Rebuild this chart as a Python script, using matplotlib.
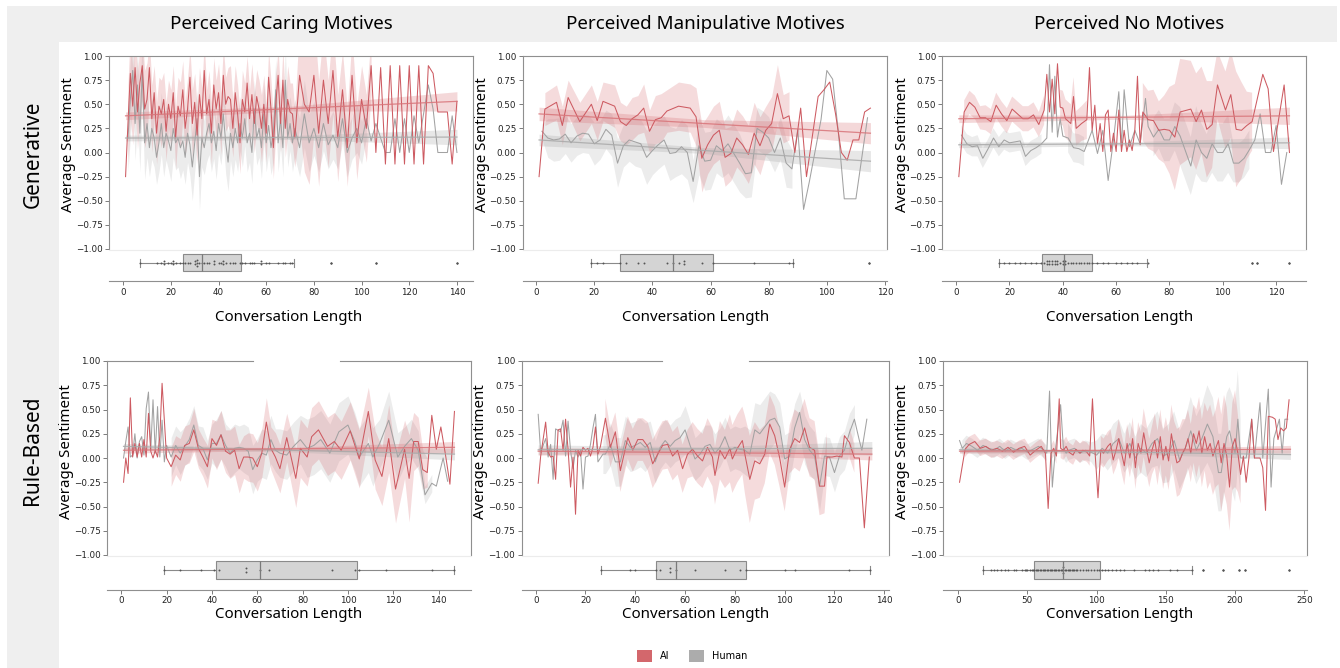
import numpy as np
import matplotlib.pyplot as plt
from matplotlib.patches import Patch, Rectangle

nan = np.nan

col_titles = ["Perceived Caring Motives", "Perceived Manipulative Motives", "Perceived No Motives"]
row_titles = ["Generative", "Rule-Based"]
series_labels = ["AI", "Human"]

# ----------------------------------------------------------------------
# Generative / caring
# ----------------------------------------------------------------------
p1_x = [1, 2, 3, 4, 5, 6, 7, 8, 9, 10, 11, 12, 13, 14, 15, 16, 17, 18, 19, 20,
        21, 22, 23, 24, 25, 26, 27, 28, 29, 30, 31, 32, 33, 34, 35, 36, 37, 38, 39, 40,
        41, 42, 43, 44, 45, 46, 47, 48, 49, 50, 51, 52, 53, 54, 55, 56, 57, 58, 59, 60,
        61, 62, 63, 64, 65, 66, 67, 68, 69, 70, 71, 72,
        74, 76, 78, 80, 82, 84, 86, 88, 90, 92, 94, 96, 98, 100, 102, 104, 106, 108, 110, 112,
        114, 116, 118, 120, 122, 124, 126, 128, 130, 132, 134, 136, 138, 140]
p1_ai = [-0.25, 0.30, 0.82, 0.48, 0.88, 0.42, 0.72, 0.90, 0.45, 0.55,
         0.88, 0.35, 0.62, 0.20, 0.48, 0.40, 0.55, 0.22, 0.50, 0.35,
         0.62, 0.15, 0.48, 0.38, 0.65, 0.25, 0.45, 0.78, 0.30, 0.52,
         0.18, 0.60, 0.35, 0.85, 0.40, 0.55, 0.20, 0.70, 0.45, 0.62,
         0.30, 0.80, 0.50, 0.58, 0.55, 0.25, 0.62, 0.40, 0.10, 0.55,
         0.42, 0.72, 0.35, 0.60, 0.30, 0.58, 0.45, 0.25, 0.50, 0.20,
         0.78, 0.45, 0.05, 0.50, 0.80, 0.30, 0.75, 0.25, 0.55, 0.42, 0.40, 0.15,
         0.80, 0.50, 0.42, 0.80, 0.20, 0.75, 0.30, 0.85, 0.15, 0.65,
         0.05, 0.80, 0.10, 0.55, 0.25, 0.90, 0.00, 0.88, -0.12, 0.90,
         -0.12, 0.90, -0.12, 0.90, -0.12, 0.90, -0.12, 0.90, 0.82, 0.42,
         0.42, 0.42, -0.12, 0.53]
p1_ai_ci = [nan, 0.40, 0.45, 0.40, 0.42, 0.38, 0.40, 0.35, 0.40, 0.38,
            0.30, 0.35, 0.28, 0.32, 0.30, 0.35, 0.28, 0.30, 0.25, 0.30,
            0.28, 0.32, 0.30, 0.35, 0.30, 0.28, 0.32, 0.30, 0.35, 0.30,
            0.30, 0.28, 0.32, 0.30, 0.25, 0.30, 0.32, 0.28, 0.30, 0.30,
            0.32, 0.30, 0.28, 0.30, 0.35, 0.30, 0.28, 0.30, 0.32, 0.30,
            0.30, 0.28, 0.30, 0.32, 0.30, 0.28, 0.30, 0.35, 0.30, 0.30,
            0.28, 0.30, 0.32, 0.30, 0.28, 0.30, 0.32, 0.30, 0.35, 0.30, 0.32, 0.30,
            0.55, 0.70, 0.75, 0.60, 0.55, 0.50, 0.45, 0.45, 0.45, 0.40,
            0.40, 0.40, 0.38, 0.35, 0.35, 0.30, nan, nan, nan, nan,
            nan, nan, nan, nan, nan, nan, nan, nan, nan, nan,
            nan, nan, nan, nan]
p1_hu = [nan, 0.15, 0.55, 0.85, 0.30, 0.70, 0.20, 0.85, 0.10, 0.30,
         0.05, 0.25, 0.15, -0.05, 0.10, 0.30, 0.05, 0.20, 0.12, 0.02,
         0.25, 0.10, 0.15, 0.05, 0.12, -0.05, 0.20, 0.08, -0.15, 0.10,
         0.35, -0.25, 0.15, 0.05, 0.20, 0.30, 0.10, 0.22, 0.02, 0.30,
         0.15, 0.40, 0.10, -0.10, 0.20, 0.05, 0.25, 0.10, 0.30, 0.15,
         0.35, 0.10, 0.20, 0.00, 0.45, 0.15, 0.25, 0.05, 0.40, 0.10,
         0.28, 0.05, 0.20, 0.65, 0.10, 0.35, 0.05, 0.75, 0.15, 0.30, 0.10, 0.25,
         0.05, 0.40, 0.10, 0.25, 0.05, 0.30, 0.08, 0.18, 0.05, 0.35,
         0.00, 0.15, 0.25, 0.10, 0.35, 0.12, 0.30, 0.15, 0.00, 0.00,
         0.35, 0.00, 0.35, 0.00, 0.38, 0.10, 0.40, 0.70, 0.45, 0.00,
         0.00, 0.00, 0.38, 0.00]
p1_hu_ci = [nan, 0.35, 0.40, 0.35, 0.38, 0.35, 0.40, 0.35, 0.38, 0.35,
            0.30, 0.32, 0.30, 0.28, 0.30, 0.32, 0.30, 0.28, 0.30, 0.32,
            0.30, 0.28, 0.30, 0.32, 0.30, 0.28, 0.30, 0.32, 0.35, 0.30,
            0.30, 0.35, 0.30, 0.28, 0.30, 0.32, 0.30, 0.28, 0.30, 0.30,
            0.28, 0.30, 0.32, 0.30, 0.28, 0.30, 0.32, 0.30, 0.28, 0.30,
            0.28, 0.30, 0.30, 0.32, 0.30, 0.28, 0.30, 0.32, 0.30, 0.30,
            0.30, 0.28, 0.30, 0.32, 0.30, 0.28, 0.30, 0.32, 0.30, 0.28, 0.30, 0.30,
            0.30, 0.35, 0.30, 0.28, 0.25, 0.28, 0.25, 0.25, 0.22, 0.25,
            0.25, 0.22, 0.25, 0.22, 0.20, nan, nan, nan, nan, nan,
            nan, nan, nan, nan, nan, nan, nan, nan, nan, nan,
            nan, nan, nan, nan]
p1_reg_x = [1, 70.5, 140]
p1_reg_ai = [0.38, 0.455, 0.53]
p1_reg_ai_ci = [0.04, 0.025, 0.10]
p1_reg_hu = [0.15, 0.155, 0.16]
p1_reg_hu_ci = [0.03, 0.02, 0.08]
p1_box = [7, 25, 33, 49.5, 71.5]
p1_fliers = [87, 106, 140]
p1_lengths = [7, 14, 16, 17, 17, 19, 20, 21, 21, 22, 24, 25, 26, 27, 28, 30, 30, 31, 31, 31,
              32, 33, 34, 35, 36, 38, 38, 40, 41, 42, 42, 43, 45, 46, 47, 49, 50, 51, 53, 54,
              55, 58, 58, 60, 61, 65, 67, 68, 70, 71, 87, 106, 140]

# ----------------------------------------------------------------------
# Generative / manipulative
# ----------------------------------------------------------------------
p2_ai_x = [1, 3, 7, 9, 11, 15, 19, 21, 23, 27, 29, 31, 33, 35, 37, 39, 41, 43, 45, 49,
           53, 55, 57, 59, 61, 63, 65, 67, 69, 71, 73, 75, 77, 79, 81, 83, 85, 87, 89, 91,
           93, 97, 99, 101, 103, 105, 107, 109, 111, 113, 115]
p2_ai = [-0.25, 0.45, 0.52, 0.28, 0.57, 0.32, 0.50, 0.33, 0.53, 0.48,
         0.32, 0.28, 0.35, 0.39, 0.46, 0.22, 0.34, 0.36, 0.43, 0.48,
         0.46, 0.37, -0.06, 0.08, 0.18, 0.23, -0.05, -0.01, 0.15, 0.08,
         -0.02, 0.20, 0.07, 0.23, 0.30, 0.61, 0.35, 0.38, 0.00, 0.46,
         -0.25, 0.58, 0.65, 0.73, 0.40, 0.00, -0.08, 0.13, 0.13, 0.42, 0.46]
p2_ai_ci = [nan, 0.17, 0.18, 0.20, 0.18, 0.20, 0.20, 0.20, 0.20, 0.22,
            0.20, 0.20, 0.22, 0.20, 0.25, 0.22, 0.25, 0.25, 0.22, 0.25,
            0.25, 0.30, 0.35, 0.30, 0.30, 0.30, 0.30, 0.28, 0.30, 0.30,
            0.30, 0.32, 0.30, 0.25, 0.28, 0.30, 0.25, 0.25, nan, nan,
            nan, nan, nan, nan, nan, nan, nan, nan, nan, nan, nan]
p2_hu_x = [2, 4, 6, 8, 10, 12, 14, 16, 18, 20, 22, 24, 26, 28, 30, 32, 34, 36, 38, 40,
           42, 44, 46, 48, 50, 52, 54, 56, 58, 60, 62, 64, 66, 68, 70, 72, 74, 76, 78, 80,
           82, 84, 86, 88, 90, 92, 94, 98, 100, 102, 104, 106, 110, 114]
p2_hu = [0.22, 0.15, 0.13, 0.14, 0.19, 0.10, 0.17, 0.20, 0.19, 0.09,
         0.13, 0.24, 0.18, -0.11, 0.07, 0.13, 0.11, 0.09, -0.05, 0.02,
         0.08, 0.13, -0.01, 0.00, 0.06, 0.00, -0.30, 0.07, -0.09, -0.08,
         0.07, 0.02, 0.09, -0.01, -0.11, -0.22, -0.21, 0.25, 0.21, 0.15,
         0.00, 0.15, -0.11, -0.17, 0.24, -0.59, -0.30, 0.34, 0.85, 0.76,
         0.20, -0.48, -0.48, 0.36]
p2_hu_ci = [0.08, 0.20, 0.22, 0.22, 0.20, 0.20, 0.20, 0.20, 0.20, 0.22,
            0.20, 0.20, 0.22, 0.25, 0.22, 0.22, 0.25, 0.25, 0.28, 0.25,
            0.25, 0.25, 0.28, 0.25, 0.28, 0.28, 0.22, 0.30, 0.30, 0.30,
            0.28, 0.28, 0.30, 0.30, 0.30, 0.25, 0.25, 0.22, 0.22, 0.22,
            0.20, 0.22, 0.25, 0.20, nan, nan, nan, nan, nan, nan,
            nan, nan, nan, nan]
p2_reg_x = [1, 58, 115]
p2_reg_ai = [0.40, 0.30, 0.20]
p2_reg_ai_ci = [0.07, 0.04, 0.11]
p2_reg_hu = [0.13, 0.02, -0.09]
p2_reg_hu_ci = [0.06, 0.03, 0.11]
p2_box = [19, 29, 47, 61, 88.5]
p2_fliers = [114.5]
p2_lengths = [19, 21, 23, 29, 31, 35, 37, 45, 47, 49, 51, 51, 57, 61, 75, 87, 88.5, 114.5]

# ----------------------------------------------------------------------
# Generative / no motives
# ----------------------------------------------------------------------
p3_ai_x = [1, 3, 5, 7, 9, 11, 13, 15, 17, 19, 21, 23, 25, 27, 29, 31, 33, 34, 35, 36,
           37, 38, 39, 40, 41, 43, 44, 45, 47, 49, 50, 51, 52, 53, 54, 55, 56, 57, 58, 59,
           60, 61, 62, 63, 64, 65, 66, 67, 68, 69, 70, 72, 74, 76, 78, 80, 82, 84, 88, 90,
           92, 94, 96, 98, 101, 103, 105, 107, 109, 111, 115, 117, 119, 123, 125]
p3_ai = [-0.25, 0.42, 0.52, 0.47, 0.36, 0.36, 0.32, 0.49, 0.40, 0.33,
         0.45, 0.40, 0.35, 0.35, 0.39, 0.29, 0.44, 0.81, 0.42, 0.76,
         0.40, 0.92, 0.47, 0.46, 0.35, 0.30, 0.58, 0.25, 0.30, 0.34,
         0.88, 0.23, 0.49, 0.09, 0.30, 0.01, 0.39, 0.44, 0.01, 0.20,
         0.01, 0.44, 0.01, 0.23, 0.01, 0.13, 0.02, 0.23, 0.79, 0.08,
         0.42, 0.34, 0.33, 0.23, 0.24, 0.23, 0.16, 0.42, 0.45, 0.32,
         0.44, 0.24, 0.29, 0.70, 0.44, 0.60, 0.24, 0.23, 0.28, 0.32,
         0.81, 0.66, 0.01, 0.70, 0.00]
p3_ai_ci = [nan, 0.12, 0.12, 0.12, 0.12, 0.13, 0.13, 0.13, 0.13, 0.13,
            0.13, 0.13, 0.13, 0.13, 0.13, 0.13, 0.15, nan, nan, nan,
            nan, nan, 0.18, 0.18, 0.20, 0.20, 0.20, 0.18, 0.18, 0.20,
            nan, nan, nan, nan, nan, nan, nan, nan, nan, nan,
            nan, nan, nan, nan, nan, nan, nan, nan, nan, nan,
            0.30, 0.30, 0.32, 0.30, 0.35, 0.45, 0.55, 0.55, 0.50, 0.50,
            0.45, 0.50, 0.45, 0.35, 0.40, 0.45, 0.60, 0.50, 0.35, 0.30,
            nan, nan, nan, nan, nan]
p3_hu_x = [2, 4, 6, 8, 10, 12, 14, 16, 18, 20, 22, 24, 26, 28, 30, 32,
           34, 35, 36, 37, 38, 39, 40, 42, 44, 46, 48,
           51, 53, 55, 57, 59, 61, 62, 63, 65, 67, 69, 71, 72,
           74, 76, 78, 80, 82, 84,
           88, 90, 92, 94, 96, 98, 100, 102, 104, 106, 108, 110, 112, 114, 116, 118, 120, 122, 124]
p3_hu = [0.18, 0.09, 0.06, 0.07, -0.06, 0.04, 0.15, 0.06, 0.13, 0.10, 0.11, 0.12, -0.04, 0.02, 0.05, 0.09,
         0.15, 0.91, 0.21, 0.79, 0.16, 0.35, 0.17, 0.15, 0.05, 0.04, 0.01,
         0.23, -0.01, 0.23, -0.29, 0.13, 0.63, 0.06, 0.65, 0.06, 0.23, 0.09, 0.56, 0.27,
         0.16, 0.24, 0.13, 0.13, 0.27, 0.17,
         -0.14, 0.13, 0.00, -0.06, 0.09, 0.00, 0.00, 0.09, -0.11, -0.11, -0.06, 0.03, 0.13, 0.40,
         0.00, 0.00, 0.28, -0.33, 0.00]
p3_hu_ci = [0.10, 0.10, 0.10, 0.11, 0.10, 0.10, 0.10, 0.10, 0.10, 0.10, 0.10, 0.10, 0.10, 0.10, 0.10, 0.10,
            nan, nan, nan, nan, nan, nan, nan, 0.15, 0.15, 0.15, 0.15,
            nan, nan, nan, nan, nan, nan, nan, nan, nan, nan, nan, nan, nan,
            0.20, 0.20, 0.22, 0.22, 0.25, 0.30,
            0.30, 0.35, 0.30, 0.25, 0.30, 0.30, 0.30, 0.30, 0.20, 0.20, 0.20, 0.20, nan, nan,
            nan, nan, nan, nan, nan]
p3_reg_x = [1, 63, 125]
p3_reg_ai = [0.35, 0.365, 0.38]
p3_reg_ai_ci = [0.04, 0.02, 0.09]
p3_reg_hu = [0.08, 0.09, 0.10]
p3_reg_hu_ci = [0.03, 0.02, 0.06]
p3_box = [16, 32.3, 40.5, 50.8, 71.6]
p3_fliers = [111, 113, 125]
p3_lengths = [16, 18, 20, 22, 24, 26, 28, 30, 32, 33, 34, 34, 35, 35, 36, 36, 37, 37, 38, 38,
              39, 40, 40, 41, 41, 42, 43, 44, 45, 46, 47, 48, 49, 50, 51, 53, 55, 57, 60, 62,
              64, 66, 68, 72, 111, 113, 125]

# ----------------------------------------------------------------------
# Rule-based / caring
# ----------------------------------------------------------------------
p4_ai_x = [1, 2, 3, 4, 5, 6, 7, 8, 9, 10, 11, 12, 13, 14, 15, 16, 17, 18, 19, 20,
           22, 24, 26, 28, 30, 32, 34, 36, 38, 40, 42, 44, 46, 48, 50, 52, 54, 56, 58, 60,
           62, 64, 66, 68, 70,
           73, 77, 79, 82, 84, 87, 91, 94, 97, 101, 105, 109, 112, 115, 118, 121, 125, 127, 129, 131,
           133, 135, 137, 139, 141, 143, 145, 147]
p4_ai = [-0.25, 0.00, -0.16, 0.62, 0.01, 0.15, 0.01, 0.15, 0.01, 0.19,
         0.01, 0.46, 0.07, 0.00, 0.08, 0.01, 0.22, 0.77, 0.39, 0.00,
         -0.09, 0.03, -0.02, 0.13, 0.15, 0.29, 0.10, 0.01, -0.09, 0.20,
         0.13, 0.24, 0.07, 0.04, 0.08, -0.11, 0.01, 0.01, 0.00, -0.09,
         0.05, 0.37, 0.10, 0.01, -0.11,
         0.21, -0.21, 0.10, 0.01, 0.22, 0.29, 0.12, 0.17, 0.08, 0.28,
         -0.01, 0.48, -0.02, -0.19, 0.20, -0.32, 0.09, -0.21, 0.17, 0.17,
         -0.12, -0.15, 0.44, 0.09, 0.32, 0.04, -0.27, 0.48]
p4_ai_ci = [nan, nan, nan, nan, nan, nan, nan, nan, nan, nan,
            nan, nan, nan, nan, nan, nan, nan, nan, nan, nan,
            0.20, 0.20, 0.22, 0.20, 0.20, 0.22, 0.20, 0.20, 0.22, 0.20,
            0.25, 0.25, 0.22, 0.25, 0.25, 0.25, 0.22, 0.25, 0.25, 0.25,
            0.25, 0.25, 0.22, 0.25, 0.25,
            0.25, 0.30, 0.30, 0.30, 0.30, 0.30, 0.30, 0.30, 0.30, 0.30,
            0.30, 0.25, 0.30, 0.30, 0.35, 0.35, 0.30, 0.45, 0.30, 0.25,
            0.20, 0.15, nan, nan, nan, nan, nan, nan]
p4_hu_x = [1, 2, 3, 4, 5, 6, 7, 8, 9, 10, 11, 12, 13, 14, 15, 16, 17, 18, 19, 20,
           22, 24, 26, 28, 30, 32, 34, 36, 38, 40, 42, 44, 46, 48, 50, 52, 54, 56, 58, 60,
           62, 64, 66, 68, 70,
           73, 76, 79, 82, 85, 88, 92, 96, 100, 103, 105, 109, 111, 114, 118, 122, 125, 128, 131,
           134, 137, 139, 142, 144]
p4_hu = [0.00, 0.17, 0.32, 0.01, 0.03, 0.25, 0.00, 0.17, 0.22, 0.03,
         0.51, 0.68, 0.08, 0.60, 0.05, 0.53, 0.01, 0.39, -0.04, 0.13,
         0.01, 0.13, 0.05, 0.12, 0.19, 0.34, 0.13, 0.10, -0.02, 0.15,
         0.15, 0.24, 0.13, 0.05, 0.10, 0.11, 0.10, 0.07, -0.12, -0.02,
         0.05, 0.03, 0.19, 0.08, 0.05,
         0.03, 0.12, 0.19, 0.10, 0.13, 0.19, 0.05, 0.27, 0.34, 0.17,
         0.01, 0.15, 0.01, 0.15, 0.39, 0.01, 0.12, 0.20, 0.08,
         -0.38, -0.26, -0.29, 0.00, -0.24]
p4_hu_ci = [nan, nan, nan, nan, nan, nan, nan, nan, nan, nan,
            nan, nan, nan, nan, nan, nan, nan, nan, nan, nan,
            0.20, 0.20, 0.22, 0.20, 0.22, 0.20, 0.20, 0.22, 0.20, 0.20,
            0.25, 0.25, 0.22, 0.25, 0.25, 0.22, 0.25, 0.25, 0.25, 0.22,
            0.25, 0.25, 0.25, 0.22, 0.25,
            0.25, 0.25, 0.25, 0.30, 0.30, 0.30, 0.30, 0.30, 0.30, 0.30,
            0.30, 0.30, 0.30, 0.25, 0.30, 0.25, 0.20, 0.20, 0.20,
            0.09, 0.09, nan, nan, nan]
p4_reg_x = [1, 74, 147]
p4_reg_ai = [0.08, 0.095, 0.11]
p4_reg_ai_ci = [0.03, 0.015, 0.06]
p4_reg_hu = [0.12, 0.08, 0.04]
p4_reg_hu_ci = [0.03, 0.015, 0.06]
p4_box = [19, 42, 61, 104, 147]
p4_fliers = []
p4_lengths = [19, 26, 35, 41, 43, 55, 55, 61, 65, 93, 103, 105, 117, 137, 147]

# ----------------------------------------------------------------------
# Rule-based / manipulative
# ----------------------------------------------------------------------
p5_ai_x = [1, 2, 4, 5, 6, 7, 8, 9, 10, 11, 12, 13, 14, 15, 16, 17, 18, 19, 20, 21,
           22, 23, 24, 25, 26, 28, 30, 32, 34, 37, 39, 41, 43, 45, 47, 49, 51, 53, 55, 57,
           59, 61, 63, 65, 67, 69, 71, 72, 74, 76, 78, 79, 81, 83, 84, 86, 88, 90, 92, 94,
           96, 98, 100, 102, 104, 106, 108, 110, 112, 114, 116, 117, 119, 121, 123, 124, 126, 128, 130, 132,
           134]
p5_ai = [-0.26, 0.02, 0.37, 0.06, 0.01, 0.02, -0.22, 0.29, 0.30, 0.08,
         0.40, 0.09, -0.30, 0.01, -0.58, 0.08, 0.02, 0.11, 0.08, 0.10,
         0.02, 0.11, 0.32, 0.04, 0.12, 0.41, 0.11, 0.27, -0.13, 0.21,
         0.08, 0.19, 0.19, 0.12, -0.06, 0.04, 0.13, 0.14, 0.02, 0.08,
         -0.11, 0.04, 0.09, 0.02, -0.03, 0.11, 0.01, -0.18, 0.08, -0.01,
         0.10, -0.01, 0.10, 0.18, 0.04, -0.22, -0.03, -0.06, 0.04, 0.35,
         0.23, 0.00, -0.30, 0.09, 0.20, 0.16, 0.31, 0.11, 0.08, -0.29,
         -0.29, 0.01, 0.01, 0.02, 0.01, 0.23, 0.16, 0.00, 0.00, -0.72,
         0.01]
p5_ai_ci = [nan, nan, nan, nan, nan, nan, nan, nan, nan, nan,
            nan, nan, nan, nan, nan, nan, nan, nan, nan, nan,
            nan, nan, nan, nan, nan, 0.20, 0.20, 0.20, 0.22, 0.22,
            0.22, 0.22, 0.22, 0.25, 0.25, 0.25, 0.25, 0.25, 0.25, 0.25,
            0.25, 0.25, 0.28, 0.28, 0.28, 0.30, 0.30, 0.30, 0.30, 0.30,
            0.35, 0.35, 0.35, 0.35, 0.40, 0.45, 0.40, 0.35, 0.30, 0.30,
            0.30, 0.30, 0.25, 0.25, 0.30, 0.30, 0.30, 0.30, 0.30, 0.30,
            0.28, 0.25, nan, nan, nan, nan, 0.15, 0.15, nan, nan,
            nan]
p5_hu_x = [1, 2, 4, 5, 6, 7, 8, 10, 11, 12, 13, 14, 15, 16, 17, 18, 19, 20, 21, 22,
           23, 24, 25, 27, 28, 30, 32, 34, 36, 38, 40, 42, 44, 46, 48, 50, 52, 54, 56, 58,
           60, 62, 64, 66, 68, 70, 72, 74, 76, 78, 80, 82, 84, 86, 88, 90, 92, 94, 96, 98,
           100, 102, 104, 106, 108, 110, 112, 114, 116, 118, 120, 122, 124, 126, 128, 130, 131, 133]
p5_hu = [0.45, 0.06, 0.20, 0.01, 0.14, -0.22, 0.30, 0.27, 0.39, 0.02,
         0.38, 0.08, -0.11, 0.08, 0.01, 0.08, -0.32, 0.01, 0.02, 0.14,
         0.31, 0.45, -0.04, 0.04, 0.04, 0.14, -0.04, -0.04, 0.18, 0.11,
         0.13, 0.16, 0.11, 0.16, -0.04, 0.11, 0.18, 0.12, 0.18, 0.21,
         0.29, 0.13, -0.01, 0.04, 0.12, 0.14, 0.05, 0.11, 0.22, 0.08,
         0.11, 0.09, 0.08, 0.04, 0.29, 0.25, 0.32, 0.39, 0.41, 0.32,
         -0.01, 0.02, 0.31, 0.47, 0.19, 0.08, 0.02, -0.29, 0.02, 0.01,
         -0.15, 0.02, 0.08, 0.26, 0.40, 0.18, 0.08, 0.40]
p5_hu_ci = [nan, nan, nan, nan, nan, nan, nan, nan, nan, nan,
            nan, nan, nan, nan, nan, nan, nan, nan, nan, nan,
            nan, nan, nan, 0.20, 0.20, 0.22, 0.25, 0.25, 0.25, 0.25,
            0.25, 0.25, 0.25, 0.22, 0.22, 0.22, 0.22, 0.22, 0.22, 0.22,
            0.25, 0.25, 0.22, 0.22, 0.22, 0.20, 0.20, 0.20, 0.20, 0.22,
            0.22, 0.22, 0.25, 0.25, 0.28, 0.30, 0.30, 0.30, 0.25, 0.25,
            0.25, 0.25, 0.25, 0.22, 0.25, 0.25, 0.25, 0.25, 0.20, 0.20,
            0.20, 0.20, 0.20, 0.20, 0.15, nan, nan, nan]
p5_reg_x = [1, 68, 135]
p5_reg_ai = [0.07, 0.055, 0.04]
p5_reg_ai_ci = [0.04, 0.02, 0.06]
p5_reg_hu = [0.085, 0.095, 0.10]
p5_reg_hu_ci = [0.05, 0.02, 0.07]
p5_box = [26.3, 48.3, 56.3, 84.3, 134.3]
p5_fliers = []
p5_lengths = [26.3, 38, 40, 48.3, 50, 54, 54, 56.3, 64, 76, 82, 84.3, 100, 104, 126, 134.3]

# ----------------------------------------------------------------------
# Rule-based / no motives
# ----------------------------------------------------------------------
p6_ai_x = [1, 5, 8, 12, 16, 20, 24, 28, 32, 36, 40, 44, 48, 52, 56, 60, 63, 65, 67, 69,
           71, 73, 74, 76, 78, 80, 83, 85, 88, 90, 93, 95, 97, 99, 101, 103, 105, 108, 110, 112,
           114, 116, 118, 120, 122, 124, 126, 128, 130, 132, 134, 136, 138, 140, 142, 144, 146, 148, 150, 152,
           154, 156, 158, 160, 162, 164, 166, 168, 170, 172, 174, 176, 178, 180, 182, 184, 186, 188, 190, 192,
           194, 196, 198, 200, 202, 204, 206, 208, 210, 212, 214, 216, 218, 220, 222, 224, 227, 229, 231, 233,
           235, 237, 239]
p6_ai = [-0.25, 0.09, 0.14, 0.17, 0.10, 0.12, 0.08, 0.10, 0.07, 0.11,
         0.06, 0.10, 0.12, 0.03, 0.08, 0.12, 0.05, -0.52, 0.05, 0.10,
         0.02, 0.61, 0.10, 0.08, 0.12, 0.06, 0.03, 0.09, 0.05, 0.08,
         0.06, 0.02, 0.61, 0.03, -0.41, 0.08, 0.05, 0.12, 0.15, -0.02,
         0.08, 0.20, 0.05, -0.08, 0.15, 0.00, 0.20, -0.10, 0.15, 0.05,
         0.26, 0.10, -0.05, 0.08, 0.18, 0.00, 0.22, -0.02, 0.12, -0.03,
         0.25, 0.08, -0.05, -0.03, 0.05, 0.10, 0.20, 0.05, 0.25, 0.15,
         0.28, 0.05, 0.22, 0.08, 0.15, 0.02, 0.10, 0.18, -0.05, 0.15,
         0.02, -0.30, 0.12, 0.20, 0.05, -0.17, 0.02, -0.25, 0.00, 0.40,
         0.00, 0.00, 0.00, -0.10, -0.54, 0.43, 0.42, 0.40, 0.19, 0.31,
         0.28, 0.31, 0.60]
p6_ai_ci = [nan, 0.08, 0.08, 0.08, 0.08, 0.08, 0.08, 0.08, 0.08, 0.08,
            0.08, 0.08, 0.08, 0.08, 0.08, 0.08, 0.08, nan, 0.08, 0.08,
            0.08, nan, 0.10, 0.10, 0.10, 0.10, 0.10, 0.10, 0.10, 0.10,
            0.10, 0.10, nan, 0.10, nan, 0.15, 0.15, 0.15, 0.15, 0.15,
            0.18, 0.20, 0.20, 0.20, 0.20, 0.20, 0.22, 0.22, 0.22, 0.22,
            0.25, 0.25, 0.25, 0.25, 0.28, 0.28, 0.28, 0.30, 0.30, 0.30,
            0.30, 0.30, 0.35, 0.35, 0.35, 0.30, 0.30, 0.30, 0.30, 0.35,
            0.35, 0.35, 0.35, 0.40, 0.40, 0.40, 0.40, 0.45, 0.50, 0.50,
            0.50, 0.45, 0.45, 0.50, 0.40, 0.30, nan, nan, nan, nan,
            nan, nan, nan, nan, nan, nan, nan, nan, nan, nan,
            nan, nan, nan]
p6_hu_x = [1, 3, 6, 10, 14, 18, 22, 26, 30, 34, 38, 42, 46, 50, 54, 58, 62, 64, 66, 68,
           70, 72, 74, 76, 78, 80, 84, 88, 92, 96, 100, 104, 108, 112, 116, 120, 124, 128, 132, 136,
           140, 144, 148, 152, 156, 160, 164, 168, 172, 176, 180, 184, 188, 190, 192, 194, 196, 198, 200, 202,
           204, 208, 212, 214, 218, 220, 224, 226, 228, 232, 234, 236, 238]
p6_hu = [0.18, 0.10, 0.15, 0.12, 0.08, 0.13, 0.10, 0.08, 0.12, 0.07,
         0.11, 0.08, 0.10, 0.06, 0.09, 0.12, 0.08, 0.05, 0.69, -0.30,
         0.05, 0.30, 0.55, 0.10, 0.05, 0.08, 0.10, 0.05, 0.08, 0.06,
         0.03, 0.10, 0.05, 0.15, 0.20, 0.05, 0.15, 0.00, 0.10, 0.05,
         0.15, 0.20, 0.02, 0.05, 0.18, -0.02, 0.10, 0.28, 0.08, 0.20,
         0.35, 0.22, -0.15, -0.15, 0.05, 0.22, 0.28, 0.15, 0.05, 0.40,
         0.00, 0.00, 0.40, 0.00, 0.57, 0.00, 0.71, -0.30, 0.20, 0.40,
         0.05, 0.40, 0.40]
p6_hu_ci = [nan, 0.08, 0.08, 0.08, 0.08, 0.08, 0.08, 0.08, 0.08, 0.08,
            0.08, 0.08, 0.08, 0.08, 0.08, 0.08, 0.08, 0.08, nan, nan,
            0.10, nan, nan, 0.10, 0.10, 0.10, 0.10, 0.10, 0.10, 0.10,
            0.15, 0.15, 0.18, 0.20, 0.20, 0.20, 0.22, 0.22, 0.25, 0.25,
            0.25, 0.28, 0.28, 0.30, 0.30, 0.30, 0.30, 0.35, 0.35, 0.35,
            0.40, 0.40, 0.40, 0.40, 0.45, 0.45, 0.45, 0.50, 0.50, 0.50,
            0.40, nan, nan, nan, nan, nan, nan, nan, nan, nan,
            nan, nan, nan]
p6_reg_x = [1, 120, 240]
p6_reg_ai = [0.07, 0.08, 0.09]
p6_reg_ai_ci = [0.02, 0.01, 0.04]
p6_reg_hu = [0.085, 0.06, 0.035]
p6_reg_hu_ci = [0.03, 0.015, 0.05]
p6_box = [18, 54.5, 76, 102.5, 169]
p6_fliers = [177, 191, 203, 207, 239]
p6_lengths = [18, 24, 26, 28, 31, 34, 36, 40, 42, 46, 48, 49, 50, 52, 53, 54, 55, 56, 57, 58,
              59, 60, 61, 62, 63, 64, 65, 66, 67, 68, 69, 70, 71, 72, 73, 74, 75, 76, 76, 76,
              77, 78, 79, 80, 81, 82, 83, 84, 85, 86, 88, 90, 92, 94, 96, 98, 100, 102, 104, 106,
              108, 111, 114, 117, 120, 127, 135, 138, 141, 144, 153, 158, 169, 177, 191, 203, 207, 239]

x_max = [140, 115, 125, 147, 135, 240]
x_ticks = [[0, 20, 40, 60, 80, 100, 120, 140], [0, 20, 40, 60, 80, 100, 120],
           [0, 20, 40, 60, 80, 100, 120], [0, 20, 40, 60, 80, 100, 120, 140],
           [0, 20, 40, 60, 80, 100, 120, 140], [0, 50, 100, 150, 200, 250]]

# ----------------------------------------------------------------------
# layout (pixels of the 1340x668 canvas)
# ----------------------------------------------------------------------
W, H = 1340, 668
AI_LINE = "#cd5a61"
AI_FILL = "#d66a70"
HU_LINE = "#a2a2a2"
HU_FILL = "#b0b0b0"
SPINE = "#8f8f8f"
TITLE_FONT = "Noto Sans"

main_boxes = [(109, 473.5, 56, 249), (522.5, 887, 56, 249), (942.3, 1306, 56, 249),
              (107, 471, 361, 555), (521.5, 888.5, 361, 555), (943, 1307, 361, 555)]
box_rows = [(250, 281), (250, 281), (250, 281), (556, 589.5), (556, 589.5), (556, 589.5)]
top_gaps = [None, None, None, (0.40, 0.64), (0.382, 0.62), None]
ylabel_pos = [(69, 145), (482, 145), (902, 145), (67, 452), (481, 452), (902, 452)]
xlabel_pos = [(289, 317), (696, 317), (1120, 317), (289, 614), (696, 614), (1120, 614)]


def frac(l, r, t, b):
    return [l / W, 1 - b / H, (r - l) / W, (b - t) / H]


def draw_series(ax, x, y, ci, fill, line):
    x = np.asarray(x, float)
    y = np.asarray(y, float)
    ci = np.asarray(ci, float)
    ax.fill_between(x, y - ci, y + ci, color=fill, alpha=0.24, lw=0)
    ax.plot(x, y, color=line, lw=0.75)


def draw_reg(ax, rx, ry, rci, color):
    rx = np.asarray(rx, float)
    ry = np.asarray(ry, float)
    rci = np.asarray(rci, float)
    ax.fill_between(rx, ry - rci, ry + rci, color=color, alpha=0.28, lw=0)
    ax.plot(rx, ry, color=color, lw=0.9, alpha=0.85)


def draw_box(bx, box, fliers, lengths):
    stats = dict(whislo=box[0], q1=box[1], med=box[2], q3=box[3], whishi=box[4], fliers=fliers)
    bx.bxp([stats], positions=[0], widths=0.5, orientation="horizontal", patch_artist=True,
           capwidths=[0.22], manage_ticks=False,
           boxprops=dict(facecolor="#d4d4d4", edgecolor="#8a8a8a", lw=0.8),
           medianprops=dict(color="#7a7a7a", lw=0.9),
           whiskerprops=dict(color="#8a8a8a", lw=0.8),
           capprops=dict(color="#8a8a8a", lw=0.8),
           flierprops=dict(marker="o", ms=1.6, mfc="#444444", mec="#444444", mew=0))
    vals, counts = np.unique(np.asarray(lengths, float), return_counts=True)
    for v, n in zip(vals, counts):
        off = (np.arange(n) - (n - 1) / 2) * 0.09
        bx.plot(np.full(n, v), off, "o", ms=1.4, color="#555555", mew=0)


panels = [
    (p1_x, p1_ai, p1_ai_ci, p1_x, p1_hu, p1_hu_ci, p1_reg_x, p1_reg_ai, p1_reg_ai_ci, p1_reg_hu, p1_reg_hu_ci, p1_box, p1_fliers, p1_lengths),
    (p2_ai_x, p2_ai, p2_ai_ci, p2_hu_x, p2_hu, p2_hu_ci, p2_reg_x, p2_reg_ai, p2_reg_ai_ci, p2_reg_hu, p2_reg_hu_ci, p2_box, p2_fliers, p2_lengths),
    (p3_ai_x, p3_ai, p3_ai_ci, p3_hu_x, p3_hu, p3_hu_ci, p3_reg_x, p3_reg_ai, p3_reg_ai_ci, p3_reg_hu, p3_reg_hu_ci, p3_box, p3_fliers, p3_lengths),
    (p4_ai_x, p4_ai, p4_ai_ci, p4_hu_x, p4_hu, p4_hu_ci, p4_reg_x, p4_reg_ai, p4_reg_ai_ci, p4_reg_hu, p4_reg_hu_ci, p4_box, p4_fliers, p4_lengths),
    (p5_ai_x, p5_ai, p5_ai_ci, p5_hu_x, p5_hu, p5_hu_ci, p5_reg_x, p5_reg_ai, p5_reg_ai_ci, p5_reg_hu, p5_reg_hu_ci, p5_box, p5_fliers, p5_lengths),
    (p6_ai_x, p6_ai, p6_ai_ci, p6_hu_x, p6_hu, p6_hu_ci, p6_reg_x, p6_reg_ai, p6_reg_ai_ci, p6_reg_hu, p6_reg_hu_ci, p6_box, p6_fliers, p6_lengths),
]

fig = plt.figure(figsize=(W / 100, H / 100), dpi=100)

# grey header strips
fig.patches.append(Rectangle((7 / W, 1 - 42 / H), 1330 / W, 36 / H, transform=fig.transFigure,
                             facecolor="#efefef", edgecolor="none", zorder=-5))
fig.patches.append(Rectangle((7 / W, 0), 52 / W, (H - 6) / H, transform=fig.transFigure,
                             facecolor="#efefef", edgecolor="none", zorder=-5))

for i, (ax_x, ax_y, ax_ci, hx, hy, hci, rx, rai, raici, rhu, rhuci, box, fl, lens) in enumerate(panels):
    l, r, t, b = main_boxes[i]
    bt, bb = box_rows[i]
    lo = 1 - 0.05 * (x_max[i] - 1)
    hi = x_max[i] + 0.05 * (x_max[i] - 1)

    ax = fig.add_axes(frac(l, r, t, b))
    bx = fig.add_axes(frac(l, r, bt, bb))

    draw_series(ax, hx, hy, hci, HU_FILL, HU_LINE)
    draw_series(ax, ax_x, ax_y, ax_ci, AI_FILL, AI_LINE)
    draw_reg(ax, rx, rhu, rhuci, "#a9a9a9")
    draw_reg(ax, rx, rai, raici, "#d87479")

    ax.set_xlim(lo, hi)
    ax.set_ylim(-1, 1)
    ax.set_xticks([])
    ax.set_yticks([-1, -0.75, -0.5, -0.25, 0, 0.25, 0.5, 0.75, 1])
    ax.set_yticklabels(["\u22121.00", "\u22120.75", "\u22120.50", "\u22120.25", "0.00",
                        "0.25", "0.50", "0.75", "1.00"])
    ax.tick_params(axis="y", labelsize=6.3, length=3, width=0.6, color="#666666",
                   labelcolor="#222222", pad=1.5)
    ax.spines["bottom"].set_visible(False)
    for s in ("left", "top", "right"):
        ax.spines[s].set_color(SPINE)
        ax.spines[s].set_linewidth(0.8)
    if top_gaps[i] is not None:
        ax.spines["top"].set_visible(False)
        g0, g1 = top_gaps[i]
        ax.plot([0, g0], [1, 1], transform=ax.transAxes, color=SPINE, lw=0.8, clip_on=False)
        ax.plot([g1, 1], [1, 1], transform=ax.transAxes, color=SPINE, lw=0.8, clip_on=False)

    draw_box(bx, box, fl, lens)
    bx.set_xlim(lo, hi)
    bx.set_ylim(-0.53, 0.38)
    bx.set_yticks([])
    bx.set_xticks(x_ticks[i])
    bx.tick_params(axis="x", labelsize=6.3, length=3, width=0.6, color="#666666",
                   labelcolor="#222222", pad=2)
    for s in ("left", "right"):
        bx.spines[s].set_visible(False)
    bx.spines["top"].set_color("#ececec")
    bx.spines["top"].set_linewidth(0.8)
    bx.spines["bottom"].set_color(SPINE)
    bx.spines["bottom"].set_linewidth(0.8)
    bx.patch.set_alpha(0)

    yx, yy = ylabel_pos[i]
    fig.text(yx / W, 1 - yy / H, "Average Sentiment", rotation=90, ha="center", va="center",
             fontsize=10.8, family=TITLE_FONT)
    lx, ly = xlabel_pos[i]
    fig.text(lx / W, 1 - ly / H, "Conversation Length", ha="center", va="center",
             fontsize=10.8, family=TITLE_FONT)

for cx, title in zip([281.5, 705.5, 1129.5], col_titles):
    fig.text(cx / W, 1 - 24 / H, title, ha="center", va="center", fontsize=13.5, family=TITLE_FONT)
for cy, title in zip([154, 450], row_titles):
    fig.text(33 / W, 1 - cy / H, title, rotation=90, ha="center", va="center", fontsize=15,
             family=TITLE_FONT)

handles = [Patch(facecolor="#d3676c", edgecolor="none"), Patch(facecolor="#acacac", edgecolor="none")]
fig.legend(handles, series_labels, loc="center", bbox_to_anchor=(692 / W, 1 - 656 / H), ncol=2,
           frameon=False, fontsize=7, handlelength=1.55, handleheight=1.45, columnspacing=2.0,
           handletextpad=0.8)

fig.savefig("out.png", dpi=100)
